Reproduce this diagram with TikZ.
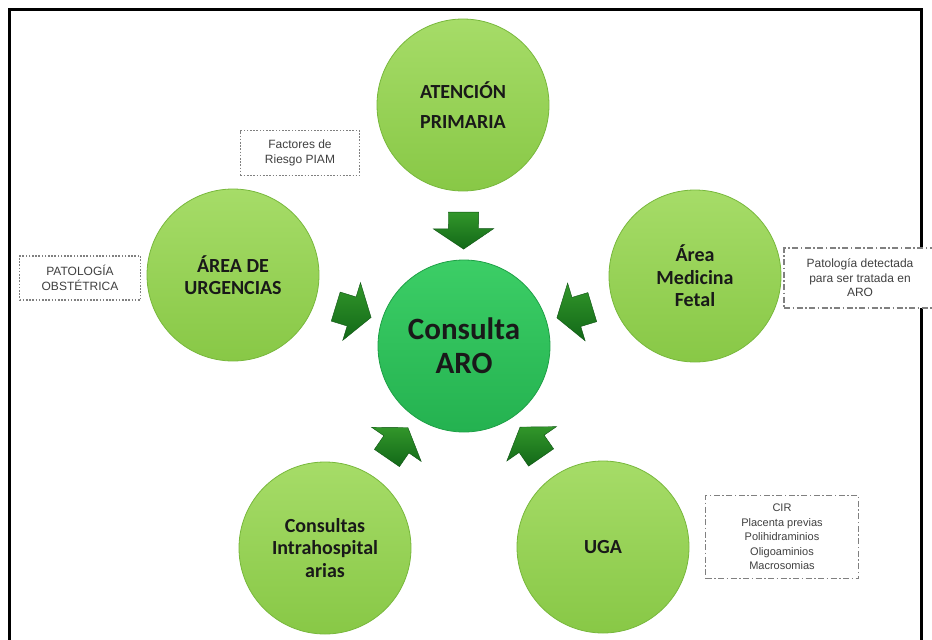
\documentclass[tikz,border=0pt]{standalone}
\usepackage{fontspec}
\setmainfont{Carlito}
\newfontfamily\notafont{Liberation Sans}
\usepackage{xcolor}
\usepackage{tikz}
\usetikzlibrary{shapes.arrows}

\definecolor{verdesup}{RGB}{166,220,104}
\definecolor{verdeinf}{RGB}{136,200,70}
\definecolor{verdeborde}{RGB}{120,184,60}
\definecolor{arosup}{RGB}{60,206,102}
\definecolor{aroinf}{RGB}{36,178,80}
\definecolor{aroborde}{RGB}{30,160,70}
\definecolor{flechasup}{RGB}{50,150,42}
\definecolor{flechainf}{RGB}{18,104,24}
\definecolor{notagris}{RGB}{128,128,128}

\begin{document}
\begin{tikzpicture}[x=1pt,y=-1pt,
  area/.style={circle,minimum size=172pt,inner sep=2pt,align=center,
    font=\bfseries\fontsize{20}{22.5}\selectfont,text=black!90,
    shade,top color=verdesup,bottom color=verdeinf,draw=verdeborde,line width=0.8pt},
  consulta/.style={area,font=\bfseries\fontsize{31}{34}\selectfont,
    top color=arosup,bottom color=aroinf,draw=aroborde},
  nota/.style={fill=white,draw=notagris,line width=1.1pt,align=center,inner sep=0pt,
    font=\notafont\fontsize{12}{14.5}\selectfont,text=black!75},
  punteada/.style={nota,dash pattern=on 1.6pt off 1.6pt},
  rayada/.style={nota,dash pattern=on 6pt off 2.5pt on 1.5pt off 2.5pt},
  flecha/.style={single arrow,sloped,allow upside down,minimum height=37pt,
    inner xsep=0pt,inner ysep=15pt,single arrow head extend=15pt,single arrow tip angle=112,
    shade,top color=flechasup,bottom color=flechainf,draw=flechainf!80!black,line width=0.4pt}]
\useasboundingbox (0,0) rectangle (932,640);
\fill[white] (0,0) rectangle (932,640);
\draw[line width=3pt] (9.5,9.5) rectangle (921.5,660);

\node[consulta] (aro)   at (464,346) {Consulta\\ARO};
\node[area]     (aten)  at (463,105) {ATENCIÓN\\[8pt]PRIMARIA};
\node[area]     (urg)   at (233,275) {ÁREA DE\\URGENCIAS};
\node[area]     (fetal) at (695,276) {Área\\Medicina\\Fetal};
\node[area]     (intra) at (325,548) {Consultas\\Intrahospital\\arias};
\node[area]     (uga)   at (603,547) {UGA};

\node[punteada,minimum width=119pt,minimum height=45pt] (riesgo)    at (300,153) {Factores de\\Riesgo PIAM};
\node[punteada,minimum width=121pt,minimum height=44pt] (obstetrica) at (80,278) {PATOLOGÍA\\OBSTÉTRICA};
\node[rayada,minimum width=152pt,minimum height=60pt]   (detectada) at (860,278) {Patología detectada\\para ser tratada en\\ARO};
\node[rayada,minimum width=153pt,minimum height=83pt,font=\notafont\fontsize{11}{14.5}\selectfont] (cir) at (782,537)
  {CIR\\Placenta previas\\Polihidraminios\\Oligoaminios\\Macrosomias};

\path (aten)  -- node[flecha] {} (aro)
      (urg)   -- node[flecha] {} (aro)
      (fetal) -- node[flecha] {} (aro)
      (intra) -- node[flecha] {} (aro)
      (uga)   -- node[flecha] {} (aro);
\end{tikzpicture}
\end{document}
